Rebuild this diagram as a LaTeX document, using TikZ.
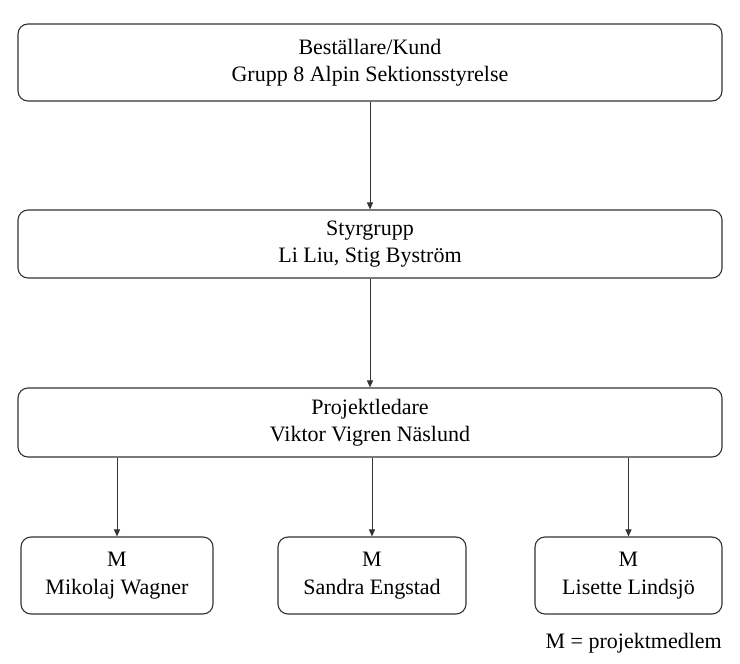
\documentclass[tikz,border=0pt]{standalone}
\usepackage{fontspec}
\setmainfont{Liberation Serif}
\usetikzlibrary{arrows.meta}
\begin{document}
\begin{tikzpicture}[x=1pt,y=-1pt,
  box/.style={draw=black!80, line width=1.1pt, rounded corners=10pt, align=center,
    inner sep=0pt, font=\fontsize{22}{27.5}\selectfont},
  conn/.style={draw=black!80, line width=1pt, -{Triangle[length=7pt,width=6pt]}}]
\useasboundingbox (0,0) rectangle (740,664);
\node[box, minimum width=704pt, minimum height=77pt] (kund) at (370,62.5) {Beställare/Kund\\Grupp 8 Alpin Sektionsstyrelse};
\node[box, minimum width=704pt, minimum height=68pt] (styr) at (370,244) {Styrgrupp\\Li Liu, Stig Byström};
\node[box, minimum width=704pt, minimum height=69pt] (pl) at (370,422.5) {Projektledare\\Viktor Vigren Näslund};
\node[box, minimum width=192pt, minimum height=77pt] (m1) at (117,575.5) {M\\Mikolaj Wagner};
\node[box, minimum width=188pt, minimum height=77pt] (m2) at (372,575.5) {M\\Sandra Engstad};
\node[box, minimum width=187pt, minimum height=77pt] (m3) at (628.5,575.5) {M\\Lisette Lindsjö};
\node[anchor=base east, inner sep=0pt, font=\fontsize{22}{26}\selectfont] (leg) at (722,648) {M = projektmedlem};
\draw[conn] (kund.south) -- (styr.north);
\draw[conn] (styr.south) -- (pl.north);
\draw[conn] (pl.south -| m1.north) -- (m1.north);
\draw[conn] (pl.south -| m2.north) -- (m2.north);
\draw[conn] (pl.south -| m3.north) -- (m3.north);
\end{tikzpicture}
\end{document}
